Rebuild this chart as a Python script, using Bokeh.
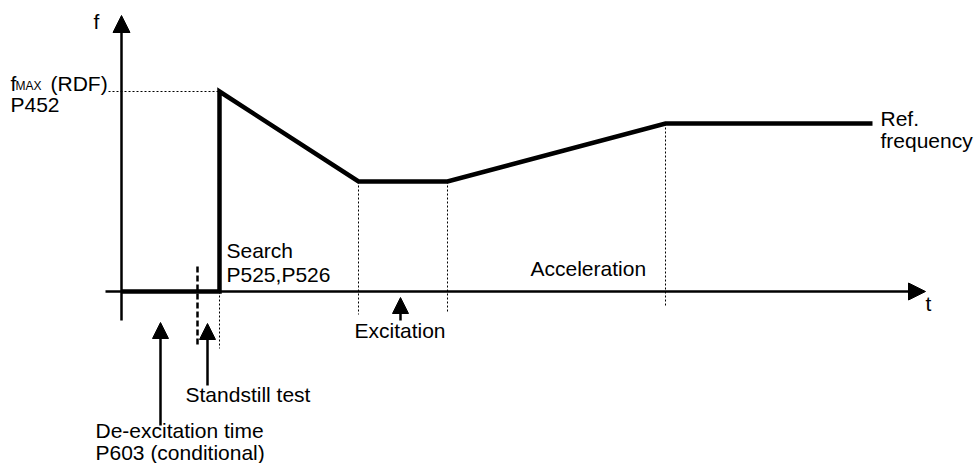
from bokeh.plotting import figure
from bokeh.models import Range1d, Arrow, NormalHead, ColumnDataSource
from bokeh.core.properties import value
from bokeh.embed import file_html
from bokeh.resources import INLINE

# ---- diagram data (time points and frequency levels, diagram units) ----
t_start = 0
t_standstill = 76
t_search = 98
t_decel_end = 237
t_excit_end = 326
t_accel_end = 544
t_end = 751

f_zero = 0
f_max = 200
f_excit = 110
f_ref = 168

curve_t = [t_start, t_search, t_search, t_decel_end, t_excit_end, t_accel_end, t_end]
curve_f = [f_zero, f_zero, f_max, f_excit, f_excit, f_ref, f_ref]

FONT = value("Liberation Sans")
FS = "21px"
DY = 7  # baseline correction

p = figure(width=975, height=463, x_range=Range1d(-121, 854), y_range=Range1d(-172, 291),
           output_backend="svg", toolbar_location=None, min_border=0,
           x_axis_type=None, y_axis_type=None)
p.grid.visible = False
p.outline_line_color = None
p.background_fill_color = "white"

# axes with arrow heads
p.add_layout(Arrow(end=NormalHead(size=17, fill_color="black", line_color="black", line_width=1),
                   x_start=t_start, y_start=-29, x_end=t_start, y_end=276,
                   line_width=2.5, line_color="black"))
p.add_layout(Arrow(end=NormalHead(size=17, fill_color="black", line_color="black", line_width=1),
                   x_start=-16, y_start=f_zero, x_end=804, y_end=f_zero,
                   line_width=2.5, line_color="black"))

# dotted guide lines
p.segment(x0=[-13], y0=[f_max], x1=[t_search], y1=[f_max], line_color="black", line_width=1, line_dash="2 2")
p.segment(x0=[t_search, t_decel_end, t_excit_end, t_accel_end],
          y0=[f_zero, f_excit, f_excit, f_ref],
          x1=[t_search, t_decel_end, t_excit_end, t_accel_end],
          y1=[-57, -23, -20, -16],
          line_color="black", line_width=1, line_dash="2 2")
# standstill dashed marker
p.segment(x0=[t_standstill], y0=[25], x1=[t_standstill], y1=[-53], line_color="black",
          line_width=2.5, line_dash="6 3")

# frequency curve
p.line(curve_t, curve_f, line_color="black", line_width=4.5, line_join="miter")

# pointer arrows
for xs, ys, ye in [(39, -134, -31), (86, -94, -32), (279, -29, -6)]:
    p.add_layout(Arrow(end=NormalHead(size=16, fill_color="black", line_color="black", line_width=1),
                       x_start=xs, y_start=ys, x_end=xs, y_end=ye, line_width=2.5, line_color="black"))

# labels (positions in diagram units)
lx = [-28, 804, -111, -71, -111, 105, 105, 64, -26, -26, 233, 409, 759, 759]
ly = [263, -19, 201, 201, 180, 34, 10, -110, -146, -168, -46, 16, 166, 144]
labels = ColumnDataSource(dict(
    x=lx,
    y=[v + DY for v in ly],
    text=["f", "t", "f", "(RDF)", "P452", "Search", "P525,P526", "Standstill test",
          "De-excitation time", "P603 (conditional)", "Excitation", "Acceleration",
          "Ref.", "frequency"],
))
p.text(x="x", y="y", text="text", source=labels, text_font=FONT, text_font_size=FS,
       text_baseline="alphabetic", text_align="left", text_color="black")
p.text(x=[-106], y=[199 + DY], text=["MAX"], text_font=FONT, text_font_size="12px",
       text_baseline="alphabetic", text_align="left", text_color="black")

open("out.html", "w").write(file_html(p, INLINE))
